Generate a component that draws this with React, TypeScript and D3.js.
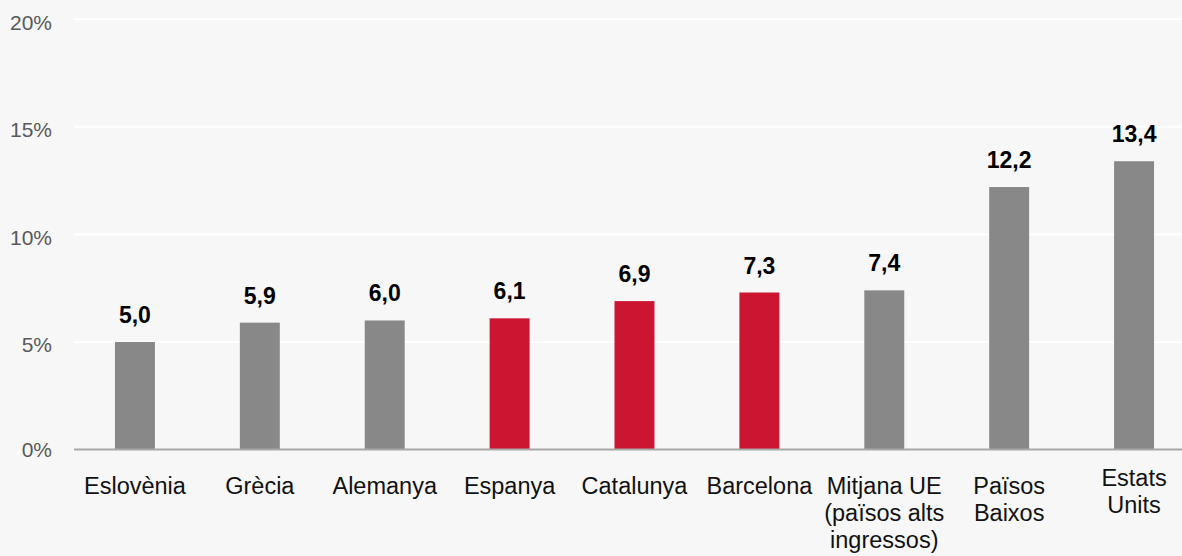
import React from 'react';
import * as d3 from 'd3';

// data
const categories = [
  'Eslovènia',
  'Grècia',
  'Alemanya',
  'Espanya',
  'Catalunya',
  'Barcelona',
  'Mitjana UE (països alts ingressos)',
  'Països Baixos',
  'Estats Units',
];
const values = [5.0, 5.9, 6.0, 6.1, 6.9, 7.3, 7.4, 12.2, 13.4];
const highlighted = ['Espanya', 'Catalunya', 'Barcelona'];
const labelLines = [
  ['Eslovènia'],
  ['Grècia'],
  ['Alemanya'],
  ['Espanya'],
  ['Catalunya'],
  ['Barcelona'],
  ['Mitjana UE', '(països alts', 'ingressos)'],
  ['Països', 'Baixos'],
  ['Estats', 'Units'],
];
const yTicks = [0, 5, 10, 15, 20];

const W = 1182;
const H = 556;
const FONT = '"Liberation Sans", Arial, sans-serif';

const App = () => {
  const x = d3.scaleBand()
    .domain(categories)
    .range([72.5, 1196.5])
    .paddingInner(0.68)
    .paddingOuter(0.34);
  const y = d3.scaleLinear()
    .domain([0, 20])
    .range([449.6, 19.2]);

  const fmt = (v: number) => d3.format('.1f')(v).replace('.', ',');

  return (
    <>
      <style>{'body{margin:0}'}</style>
      <svg width={W} height={H} style={{ display: 'block', fontFamily: FONT }}>
        <rect width={W} height={H} fill="#f7f7f7" />

        {/* grid */}
        {yTicks.filter(t => t > 0).map(t => (
          <line key={t} x1={74} x2={W} y1={y(t)} y2={y(t)} stroke="#ffffff" strokeWidth={2} />
        ))}
        {yTicks.map(t => (
          <text
            key={'t' + t}
            x={52}
            y={y(t) + (t === 0 ? 0 : 3)}
            dy="0.35em"
            textAnchor="end"
            fontSize={21}
            fill="#595959"
          >
            {t}%
          </text>
        ))}

        {/* bars */}
        {categories.map((c, i) => (
          <rect
            key={c}
            x={x(c)}
            y={y(values[i])}
            width={x.bandwidth()}
            height={y(0) - y(values[i])}
            fill={highlighted.includes(c) ? '#cc1530' : '#888888'}
          />
        ))}

        <line x1={74} x2={W} y1={y(0)} y2={y(0)} stroke="#a8a8a8" strokeWidth={2} />

        {/* value labels */}
        {categories.map((c, i) => (
          <text
            key={'v' + c}
            x={(x(c) as number) + x.bandwidth() / 2}
            y={y(values[i]) - 19}
            textAnchor="middle"
            fontSize={23}
            fontWeight="bold"
            fill="#000"
          >
            {fmt(values[i])}
          </text>
        ))}

        {/* category labels */}
        {categories.map((c, i) => {
          const lift = c === 'Estats Units' ? 8 : 0;
          return (
            <text
              key={'c' + c}
              x={(x(c) as number) + x.bandwidth() / 2}
              y={494 - lift}
              textAnchor="middle"
              fontSize={23.5}
              fill="#111"
            >
              {labelLines[i].map((l, j) => (
                <tspan key={j} x={(x(c) as number) + x.bandwidth() / 2} dy={j === 0 ? 0 : 27}>
                  {l}
                </tspan>
              ))}
            </text>
          );
        })}
      </svg>
    </>
  );
};

export default App;
